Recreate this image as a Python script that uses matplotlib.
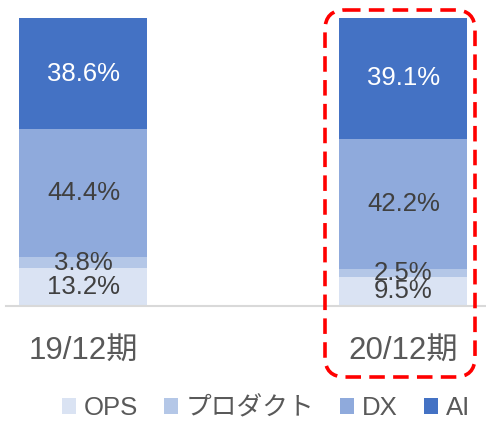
import numpy as np
import matplotlib.pyplot as plt
from matplotlib.patches import FancyBboxPatch

plt.rcParams['font.family'] = ['Liberation Sans', 'Noto Sans CJK JP', 'DejaVu Sans']

periods = ['19/12期', '20/12期']
segments = ['OPS', 'プロダクト', 'DX', 'AI']
ops = [13.2, 9.5]
product = [3.8, 2.5]
dx = [44.4, 42.2]
ai = [38.6, 39.1]
colors = ['#dae3f3', '#b4c7e7', '#8faadc', '#4472c4']
label_colors = ['#404040', '#404040', '#404040', '#ffffff']

values = np.array([ops, product, dx, ai])
totals = values.sum(axis=0)
shares = values / totals * 100  # 100% stacked

fig = plt.figure(figsize=(4.86, 4.23), dpi=100)
ax = fig.add_axes([6 / 486, 117 / 423, 480 / 486, 288 / 423])

x = np.arange(len(periods))
bottom = np.zeros(len(periods))
for i, name in enumerate(segments):
    ax.bar(x, shares[i], 0.4, bottom=bottom, color=colors[i], label=name, zorder=2)
    for j in range(len(periods)):
        ax.text(x[j], bottom[j] + shares[i][j] / 2, f'{values[i][j]:.1f}%',
                ha='center', va='center', fontsize=18.5, color=label_colors[i], zorder=3)
    bottom += shares[i]

ax.set_xlim(-0.242, 1.258)
ax.set_ylim(0, 100)
ax.set_yticks([])
ax.set_xticks(x)
ax.set_xticklabels(periods, fontsize=22.5, color='#595959')
ax.tick_params(axis='x', length=0, pad=22)
for s in ['top', 'left', 'right']:
    ax.spines[s].set_visible(False)
ax.spines['bottom'].set_color('#d9d9d9')
ax.spines['bottom'].set_linewidth(1.5)

fig.legend(loc='center', bbox_to_anchor=(266 / 486, 15 / 423), ncol=4, frameon=False,
           fontsize=18.5, labelcolor='#595959', handlelength=0.55, handleheight=0.55,
           handletextpad=0.3, columnspacing=1.0, borderaxespad=0)

# red dashed highlight around the second bar
over = fig.add_axes([0, 0, 1, 1], zorder=5)
over.set_xlim(0, 486)
over.set_ylim(423, 0)
over.axis('off')
r = 20
over.add_patch(FancyBboxPatch((325 + r, 10 + r), 150 - 2 * r, 367 - 2 * r,
                              boxstyle=f'round,pad={r},rounding_size={r}',
                              fill=False, edgecolor='#ff0000', linewidth=2.6,
                              linestyle=(0, (4.3, 2.3))))

fig.savefig('out.png', dpi=100)
